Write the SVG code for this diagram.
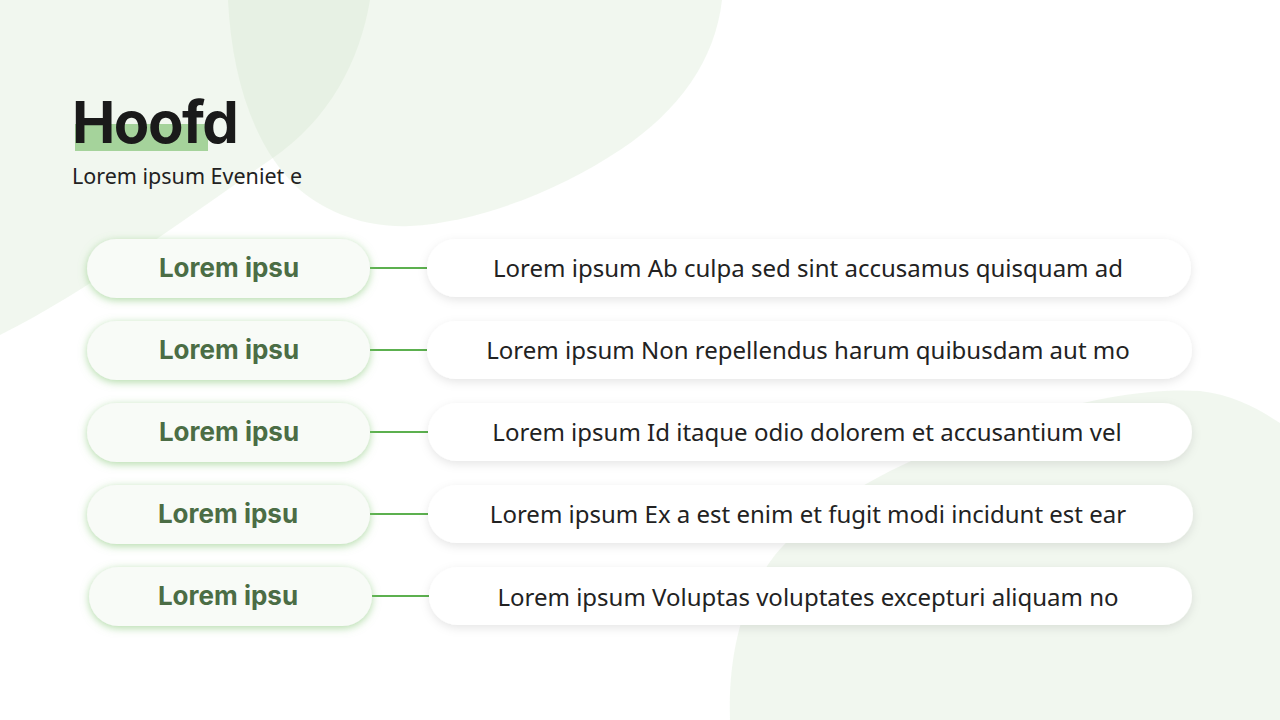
<svg xmlns="http://www.w3.org/2000/svg" width="1280" height="720" viewBox="0 0 1280 720">
  <defs>
    <filter id="glow" x="-20%" y="-40%" width="140%" height="180%">
      <feDropShadow dx="0" dy="2" stdDeviation="4.5" flood-color="#7cc36c" flood-opacity="0.6"/>
    </filter>
    <filter id="soft" x="-10%" y="-40%" width="120%" height="180%">
      <feDropShadow dx="0" dy="3" stdDeviation="5" flood-color="#000000" flood-opacity="0.1"/>
    </filter>
    <style>
      .blob { fill: #cfe6ca; opacity: 0.3; }
      .lp { fill: #f8fbf7; filter: url(#glow); }
      .rp { fill: #ffffff; filter: url(#soft); }
      .lt { font-family: Inter, "Liberation Sans", sans-serif; font-weight: 700; font-size: 26px; fill: #4b6d45; text-anchor: middle; }
      .rt { font-family: "Noto Sans", "Open Sans", sans-serif; font-size: 24px; fill: #222222; text-anchor: middle; }
      .conn { stroke: #5cb04f; stroke-width: 2; fill: none; }
    </style>
  </defs>
  <rect width="1280" height="720" fill="#ffffff"/>
  <g id="background">
    <path class="blob" d="M0,0 L370,0 C360,60 330,120 270,160 C190,215 90,290 0,335 Z"/>
    <path class="blob" d="M228,0 C232,80 255,150 300,190 C330,215 370,228 410,226 C480,222 560,190 620,150 C680,110 715,60 722,0 Z"/>
    <path class="blob" d="M730,720 C728,660 740,600 775,555 C820,500 920,450 1020,420 C1090,398 1150,388 1200,391 C1235,395 1260,410 1280,423 L1280,720 Z"/>
  </g>
  <g id="title">
    <rect x="75" y="124" width="133" height="27" fill="#a5d39b"/>
    <text x="72" y="143" font-family="Inter, 'Liberation Sans', sans-serif" font-weight="700" font-size="58" letter-spacing="-1.5" fill="#1a1a1a">Hoofd</text>
    <text x="72" y="184" font-family="'Noto Sans', 'Open Sans', sans-serif" font-size="21.5" fill="#222222">Lorem ipsum Eveniet e</text>
  </g>
  <g id="connectors">
    <line class="conn" x1="370" y1="268" x2="427" y2="268"/>
    <line class="conn" x1="370" y1="350" x2="427" y2="350"/>
    <line class="conn" x1="370" y1="432" x2="428" y2="432"/>
    <line class="conn" x1="370" y1="514" x2="428" y2="514"/>
    <line class="conn" x1="372" y1="596" x2="429" y2="596"/>
  </g>
  <g id="row1-label"><rect class="lp" x="87" y="239" width="283" height="59" rx="29.5"/><text class="lt" x="229" y="277">Lorem ipsu</text></g>
  <g id="row1-text"><rect class="rp" x="427" y="239" width="764" height="58" rx="29"/><text class="rt" x="808" y="277">Lorem ipsum Ab culpa sed sint accusamus quisquam ad</text></g>
  <g id="row2-label"><rect class="lp" x="87" y="321" width="283" height="59" rx="29.5"/><text class="lt" x="229" y="359">Lorem ipsu</text></g>
  <g id="row2-text"><rect class="rp" x="427" y="321" width="765" height="58" rx="29"/><text class="rt" x="808" y="359">Lorem ipsum Non repellendus harum quibusdam aut mo</text></g>
  <g id="row3-label"><rect class="lp" x="87" y="403" width="283" height="59" rx="29.5"/><text class="lt" x="229" y="441">Lorem ipsu</text></g>
  <g id="row3-text"><rect class="rp" x="428" y="403" width="764" height="58" rx="29"/><text class="rt" x="807" y="441">Lorem ipsum Id itaque odio dolorem et accusantium vel</text></g>
  <g id="row4-label"><rect class="lp" x="87" y="485" width="283" height="59" rx="29.5"/><text class="lt" x="228" y="523">Lorem ipsu</text></g>
  <g id="row4-text"><rect class="rp" x="428" y="485" width="765" height="58" rx="29"/><text class="rt" x="808" y="523">Lorem ipsum Ex a est enim et fugit modi incidunt est ear</text></g>
  <g id="row5-label"><rect class="lp" x="89" y="567" width="283" height="59" rx="29.5"/><text class="lt" x="228" y="605">Lorem ipsu</text></g>
  <g id="row5-text"><rect class="rp" x="429" y="567" width="763" height="58" rx="29"/><text class="rt" x="808" y="606">Lorem ipsum Voluptas voluptates excepturi aliquam no</text></g>
</svg>
